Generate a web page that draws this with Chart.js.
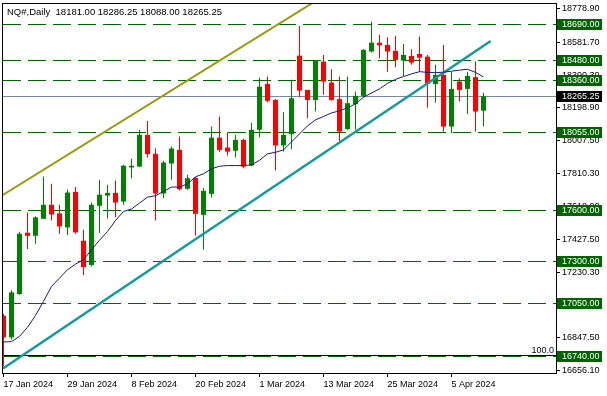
<!DOCTYPE html>
<html>
<head>
<meta charset="utf-8">
<script src="https://cdn.jsdelivr.net/npm/chart.js@4.4.1/dist/chart.umd.min.js"></script>
<style>
    html, body { margin: 0; padding: 0; background: #ffffff; }
</style>
</head>
<body>
<canvas id="candleChart" width="607" height="396"></canvas>
<script>
// Datos del gráfico diario NQ#
const dates = [
    "17 Jan 2024", "18 Jan 2024", "19 Jan 2024", "22 Jan 2024", "23 Jan 2024", "24 Jan 2024",
    "25 Jan 2024", "26 Jan 2024", "29 Jan 2024", "30 Jan 2024", "31 Jan 2024",
    "1 Feb 2024", "2 Feb 2024", "5 Feb 2024", "6 Feb 2024", "7 Feb 2024", "8 Feb 2024",
    "9 Feb 2024", "12 Feb 2024", "13 Feb 2024", "14 Feb 2024", "15 Feb 2024", "16 Feb 2024",
    "19 Feb 2024", "20 Feb 2024", "21 Feb 2024", "22 Feb 2024", "23 Feb 2024", "26 Feb 2024",
    "27 Feb 2024", "28 Feb 2024", "29 Feb 2024",
    "1 Mar 2024", "4 Mar 2024", "5 Mar 2024", "6 Mar 2024", "7 Mar 2024", "8 Mar 2024",
    "11 Mar 2024", "12 Mar 2024", "13 Mar 2024", "14 Mar 2024", "15 Mar 2024", "18 Mar 2024",
    "19 Mar 2024", "20 Mar 2024", "21 Mar 2024", "22 Mar 2024", "25 Mar 2024", "26 Mar 2024",
    "27 Mar 2024", "28 Mar 2024",
    "1 Apr 2024", "2 Apr 2024", "3 Apr 2024", "4 Apr 2024", "5 Apr 2024", "8 Apr 2024",
    "9 Apr 2024", "10 Apr 2024", "11 Apr 2024",
];
const opens = [
    16978, 16851, 17105, 17465, 17447, 17547, 17629, 17578, 17496, 17705, 17418,
    17276, 17623, 17683, 17699, 17648, 17848, 17853, 18039, 17928, 17695, 17871,
    17951, 17723, 17787, 17570, 17693, 18023, 17965, 17946, 18010, 17859,
    18069, 18338, 18244, 17977, 18043, 18504, 18303, 18244, 18469, 18346, 18249,
    18073, 18219, 18268, 18528, 18580, 18567, 18532, 18475, 18502,
    18514, 18498, 18338, 18391, 18088, 18352, 18309, 18378, 18181,
];
const highs = [
    16990, 17127, 17471, 17584, 17561, 17795, 17752, 17629, 17719, 17733, 17482,
    17642, 17776, 17746, 17771, 17864, 17899, 18069, 18121, 17961, 17887, 17971,
    18029, 17805, 17792, 17727, 18088, 18147, 18055, 18039, 18016, 18111,
    18375, 18381, 18250, 18172, 18362, 18678, 18303, 18479, 18508, 18424, 18381,
    18381, 18293, 18542, 18703, 18626, 18612, 18620, 18573, 18542,
    18616, 18508, 18450, 18567, 18410, 18372, 18410, 18469, 18286.25,
];
const lows = [
    16681, 16838, 17101, 17369, 17400, 17545, 17537, 17459, 17451, 17459, 17217,
    17267, 17463, 17549, 17557, 17629, 17785, 17850, 17906, 17537, 17668, 17776,
    17713, 17717, 17449, 17365, 17672, 17940, 17918, 17906, 17844, 17855,
    18023, 18231, 17830, 17941, 17955, 18260, 18137, 18176, 18274, 18240, 18000,
    18069, 18069, 18260, 18522, 18489, 18410, 18436, 18385, 18450,
    18410, 18199, 18229, 18059, 18049, 18235, 18162, 18059, 18088,
];
const closes = [
    16851, 17115, 17459, 17447, 17555, 17629, 17572, 17502, 17701, 17467, 17264,
    17629, 17688, 17699, 17642, 17858, 17858, 18039, 17926, 17695, 17877, 17959,
    17721, 17785, 17576, 17711, 18023, 17951, 17941, 18010, 17853, 18069,
    18322, 18239, 17977, 18039, 18254, 18299, 18244, 18475, 18352, 18244, 18059,
    18225, 18268, 18538, 18580, 18565, 18528, 18479, 18508, 18463,
    18492, 18338, 18391, 18088, 18309, 18303, 18385, 18176, 18265.25,
];
const maValues = [
    16824, 16826, 16857, 16910, 16980, 17062, 17150, 17199, 17248, 17281, 17307,
    17365, 17421, 17472, 17537, 17590, 17604, 17639, 17674, 17682, 17707, 17733,
    17733, 17752, 17793, 17811, 17840, 17855, 17859, 17859, 17859, 17863,
    17890, 17928, 17937, 17951, 17998, 18045, 18092, 18127, 18147, 18168, 18180,
    18198, 18221, 18260, 18285, 18309, 18341, 18365, 18381, 18397,
    18410, 18406, 18404, 18407, 18413, 18419, 18424, 18406, 18379,
];
const levels = [18690, 18480, 18360, 18055, 17600, 17300, 17050, 16740];
const lastPrice = 18265.25;
const fibLevel = 16746;
const yTicks = [
    16656.1, 16847.5, 17038.9, 17230.3, 17427.5, 17618.9,
    17810.3, 18007.5, 18198.9, 18390.3, 18581.7, 18778.9,
];
const oliveLine = [[-1, 17660], [40, 18853]];
const tealLine = [[-0.0625, 16668], [60.9, 18590]];
const titleText = "NQ#,Daily  18181.00 18286.25 18088.00 18265.25";

const GREEN = "#008000";
const RED = "#ff0000";
const FONT = '"Liberation Sans", Arial, sans-serif';

const candleColors = opens.map((o, i) => (closes[i] >= o ? GREEN : RED));

const overlay = {
    id: "overlay",
    beforeDatasetsDraw(chart) {
        const { ctx, chartArea: a, scales: { y } } = chart;
        ctx.save();
        ctx.beginPath();
        ctx.rect(a.left, a.top, a.right - a.left, a.bottom - a.top);
        ctx.clip();
        // niveles horizontales
        ctx.lineWidth = 1;
        ctx.strokeStyle = "#006400";
        ctx.setLineDash([18, 7]);
        levels.forEach((v) => {
            const py = Math.round(y.getPixelForValue(v)) + 0.5;
            ctx.beginPath();
            ctx.moveTo(a.left, py);
            ctx.lineTo(a.right, py);
            ctx.stroke();
        });
        ctx.setLineDash([]);
        // línea del último precio
        let py = Math.round(y.getPixelForValue(lastPrice)) + 0.5;
        ctx.strokeStyle = "#778899";
        ctx.beginPath();
        ctx.moveTo(a.left, py);
        ctx.lineTo(a.right, py);
        ctx.stroke();
        // nivel 100.0
        py = Math.round(y.getPixelForValue(fibLevel)) + 0.5;
        ctx.strokeStyle = "#000000";
        ctx.beginPath();
        ctx.moveTo(a.left, py);
        ctx.lineTo(a.right, py);
        ctx.stroke();
        ctx.restore();
    },
    afterDraw(chart) {
        const { ctx, chartArea: a, scales: { y } } = chart;
        ctx.save();
        ctx.strokeStyle = "#000000";
        ctx.lineWidth = 1;
        ctx.strokeRect(a.left - 0.5, a.top - 0.5, a.right - a.left + 1, a.bottom - a.top + 1);

        ctx.font = "9px " + FONT;
        ctx.textBaseline = "middle";
        const box = (v, bg) => {
            const py = Math.round(y.getPixelForValue(v));
            ctx.fillStyle = bg;
            ctx.fillRect(a.right + 1, py - 5, 45, 11);
            ctx.fillStyle = "#ffffff";
            ctx.textAlign = "left";
            ctx.fillText(v.toFixed(2), a.right + 6, py + 0.5);
        };
        levels.forEach((v) => box(v, "#006400"));
        box(lastPrice, "#000000");

        // etiqueta 100.0
        ctx.fillStyle = "#000033";
        ctx.textAlign = "right";
        ctx.textBaseline = "alphabetic";
        ctx.fillText("100.0", a.right - 2, y.getPixelForValue(fibLevel) - 2);

        // título
        ctx.font = "9.5px " + FONT;
        ctx.textAlign = "left";
        ctx.fillStyle = "#000000";
        ctx.fillText(titleText, 7, 15);
        ctx.restore();
    },
};

const noPad = (scale) => {
    scale.paddingTop = 0;
    scale.paddingBottom = 0;
    scale.paddingLeft = 0;
    scale.paddingRight = 0;
};

const ctx = document.getElementById("candleChart").getContext("2d");

let chart = new Chart(ctx, {
    type: "bar",
    data: {
        datasets: [
            {
                type: "line",
                label: "MA",
                data: maValues.map((v, i) => ({ x: i, y: v })),
                borderColor: "#1a1a6e",
                borderWidth: 1,
                pointRadius: 0,
                tension: 0,
                order: 0,
            },
            {
                type: "line",
                label: "Canal superior",
                data: oliveLine.map((p) => ({ x: p[0], y: p[1] })),
                borderColor: "#9a9a10",
                borderWidth: 2,
                pointRadius: 0,
                clip: 0,
                order: 0,
            },
            {
                type: "line",
                label: "Tendencia",
                data: tealLine.map((p) => ({ x: p[0], y: p[1] })),
                borderColor: "#179a9a",
                borderWidth: 2.5,
                pointRadius: 0,
                clip: 0,
                order: 0,
            },
            {
                label: "Cuerpos",
                data: opens.map((o, i) => ({ x: i, y: [o, closes[i]] })),
                backgroundColor: candleColors,
                barThickness: 5,
                minBarLength: 1,
                inflateAmount: 0,
                grouped: false,
                order: 1,
            },
            {
                label: "Mechas",
                data: lows.map((l, i) => ({ x: i, y: [l, highs[i]] })),
                backgroundColor: candleColors,
                barThickness: 1,
                inflateAmount: 0,
                grouped: false,
                order: 2,
            },
        ],
    },
    options: {
        responsive: false,
        animation: false,
        devicePixelRatio: 1,
        layout: { padding: { left: 3, top: 4, right: 0, bottom: 0 } },
        plugins: { legend: { display: false }, tooltip: { enabled: false } },
        scales: {
            x: {
                type: "linear",
                offset: false,
                min: -0.0625,
                max: 69.0625,
                afterBuildTicks: (scale) => {
                    scale.ticks = dates.map((d, i) => i).filter((i) => i % 8 === 0).map((v) => ({ value: v }));
                },
                afterFit: (scale) => { scale.height = 23; noPad(scale); },
                grid: { drawOnChartArea: false, color: "#000", tickLength: 4, offset: false },
                border: { color: "#000" },
                ticks: {
                    autoSkip: false,
                    maxRotation: 0,
                    align: "start",
                    padding: 2,
                    color: "#000",
                    font: { family: FONT, size: 9 },
                    callback: (v) => dates[v] || "",
                },
            },
            y: {
                position: "right",
                min: 16642,
                max: 18807,
                afterBuildTicks: (scale) => {
                    scale.ticks = yTicks.map((v) => ({ value: v }));
                },
                afterFit: (scale) => { scale.width = 51; noPad(scale); },
                grid: { drawOnChartArea: false, color: "#000", tickLength: 4 },
                border: { color: "#000" },
                ticks: {
                    padding: 2,
                    color: "#000",
                    font: { family: FONT, size: 9 },
                    callback: (v) => Number(v).toFixed(2),
                },
            },
        },
    },
    plugins: [overlay],
});
</script>
</body>
</html>
